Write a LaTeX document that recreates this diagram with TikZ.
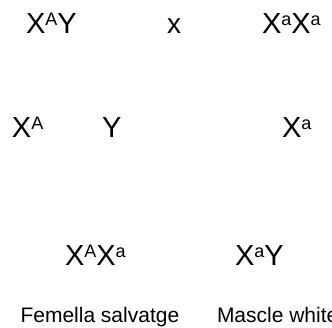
\documentclass[tikz,border=0pt]{standalone}
\usepackage{fontspec}
\setmainfont{Liberation Sans}
\newcommand{\gsup}[1]{\raisebox{8pt}{\fontsize{18}{18}\selectfont #1}}
\tikzset{
  geno/.style={inner sep=0pt, outer sep=0pt, anchor=base west, font=\fontsize{29}{29}\selectfont},
  cross/.style={inner sep=0pt, outer sep=0pt, anchor=base west, font=\fontsize{28}{28}\selectfont},
  lbl/.style={inner sep=0pt, outer sep=0pt, anchor=base west, font=\fontsize{21}{21}\selectfont}
}
\begin{document}
\begin{tikzpicture}[x=1pt,y=-1pt]
\path[use as bounding box] (0,0) rectangle (332,327);
\node[geno] (p1) at (26,33) {X\gsup{A}Y};
\node[cross] (cx) at (167,33) {x};
\node[geno] (p2) at (262,33) {X\gsup{a}X\gsup{a}};
\node[geno] (g1) at (12,137) {X\gsup{A}};
\node[geno] (g2) at (102,137) {Y};
\node[geno] (g3) at (282,137) {X\gsup{a}};
\node[geno] (f1) at (65,265) {X\gsup{A}X\gsup{a}};
\node[geno] (f2) at (235,265) {X\gsup{a}Y};
\node[lbl] (l1) at (20.5,322) {Femella salvatge};
\node[lbl] (l2) at (217,322) {Mascle white};
\end{tikzpicture}
\end{document}
